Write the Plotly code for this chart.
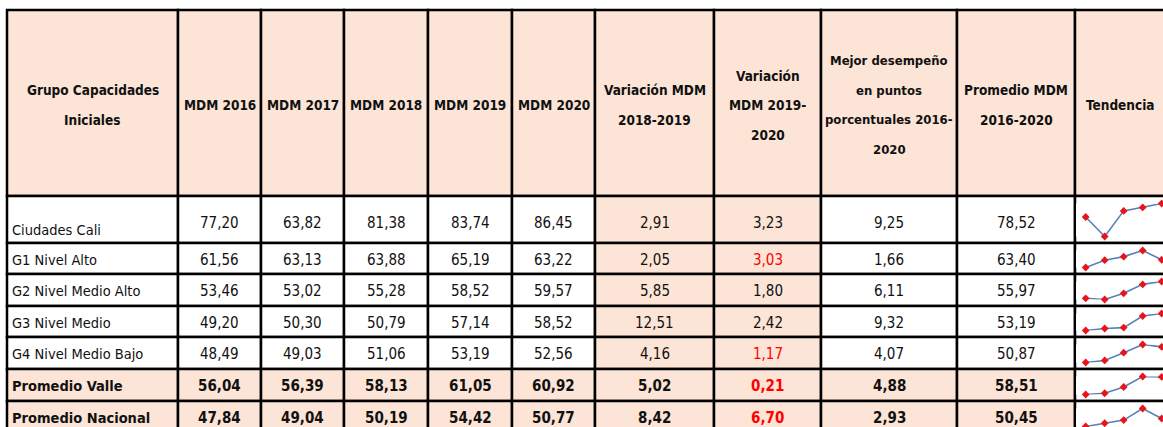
import plotly.graph_objects as go

# data
grupos = ["Ciudades Cali", "G1 Nivel Alto", "G2 Nivel Medio Alto", "G3 Nivel Medio",
          "G4 Nivel Medio Bajo", "Promedio Valle", "Promedio Nacional"]
anios = ["2016", "2017", "2018", "2019", "2020"]
mdm_2016 = [77.20, 61.56, 53.46, 49.20, 48.49, 56.04, 47.84]
mdm_2017 = [63.82, 63.13, 53.02, 50.30, 49.03, 56.39, 49.04]
mdm_2018 = [81.38, 63.88, 55.28, 50.79, 51.06, 58.13, 50.19]
mdm_2019 = [83.74, 65.19, 58.52, 57.14, 53.19, 61.05, 54.42]
mdm_2020 = [86.45, 63.22, 59.57, 58.52, 52.56, 60.92, 50.77]
var_18_19 = [2.91, 2.05, 5.85, 12.51, 4.16, 5.02, 8.42]
var_19_20 = [3.23, 3.03, 1.80, 2.42, 1.17, 0.21, 6.70]
mejor_desemp = [9.25, 1.66, 6.11, 9.32, 4.07, 4.88, 2.93]
promedio = [78.52, 63.40, 55.97, 53.19, 50.87, 58.51, 50.45]
var_rojo = [False, True, False, False, True, True, True]
encabezados = [
    ["Grupo Capacidades", "Iniciales"],
    ["MDM 2016"], ["MDM 2017"], ["MDM 2018"], ["MDM 2019"], ["MDM 2020"],
    ["Variación MDM", "2018-2019"],
    ["Variación", "MDM 2019-", "2020"],
    ["Mejor desempeño", "en puntos", "porcentuales 2016-", "2020"],
    ["Promedio MDM", "2016-2020"],
    ["Tendencia"],
]

# layout in pixels (body margin removed in the page, so figure px == window px)
W, H = 1163, 427
col_x = [7, 178, 261, 344, 428, 512, 595, 714, 821, 957, 1075, 1166]
row_y = [10, 196, 243, 274, 306, 337, 369, 401, 433]
head_cy = 105
line_gap = 29.5
PEACH = "#fce4d6"
FONT = "DejaVu Sans Condensed, Liberation Sans, sans-serif"

fig = go.Figure()
shapes = []
annots = []


def cell(c, r, fill):
    x1 = col_x[c + 1] + (20 if c == len(col_x) - 2 else 0)
    shapes.append(dict(type="rect", xref="x", yref="y",
                       x0=col_x[c], x1=x1, y0=row_y[r], y1=row_y[r + 1],
                       fillcolor=fill, line=dict(color="black", width=2.5), layer="below"))


def txt(x, y, s, bold=False, color="#111", anchor="center", size=15):
    if bold:
        s = "<b>" + s + "</b>"
    annots.append(dict(x=x, y=y, xref="x", yref="y", text=s, showarrow=False,
                       xanchor=anchor, yanchor="middle",
                       font=dict(family=FONT, size=size, color=color)))


def fmt(v):
    return ("%.2f" % v).replace(".", ",")


ncol = len(encabezados)

# header
for c, lines in enumerate(encabezados):
    cell(c, 0, PEACH)
    cx = (col_x[c] + col_x[c + 1]) / 2
    n = len(lines)
    for i, ln in enumerate(lines):
        y = head_cy + (i - (n - 1) / 2) * line_gap
        txt(cx, y, ln, bold=True, size=13 if c == 8 else 13.5)

# body
for r in range(len(grupos)):
    total = r >= 5
    vals = [mdm_2016[r], mdm_2017[r], mdm_2018[r], mdm_2019[r], mdm_2020[r],
            var_18_19[r], var_19_20[r], mejor_desemp[r], promedio[r]]
    ry = r + 1
    cy = (row_y[ry] + row_y[ry + 1]) / 2
    for c in range(ncol):
        if c == ncol - 1:
            fill = "white"
        elif total or c in (6, 7):
            fill = PEACH
        else:
            fill = "white"
        cell(c, ry, fill)
    label_y = row_y[ry + 1] - 13 if r == 0 else cy + 1
    txt(col_x[0] + 3, label_y, grupos[r], bold=total, anchor="left", size=14.5)
    for i, v in enumerate(vals):
        c = i + 1
        cx = (col_x[c] + col_x[c + 1]) / 2
        color = "#ff0000" if (c == 7 and var_rojo[r]) else "#111"
        txt(cx, cy + 1 if r else cy + 3, fmt(v), bold=total, color=color)

# sparklines
sx0, sx1 = 1076, W
for r in range(len(grupos)):
    serie = [mdm_2016[r], mdm_2017[r], mdm_2018[r], mdm_2019[r], mdm_2020[r]]
    top = row_y[r + 1] + 7.5
    bot = row_y[r + 2] - 6.5
    k = r + 2
    fig.add_trace(go.Scatter(
        x=list(range(len(anios))), y=serie, mode="lines+markers",
        line=dict(color="#5b80b8", width=1.6),
        marker=dict(color="#e8141b", size=6, symbol="diamond"),
        cliponaxis=False, hoverinfo="skip", showlegend=False,
        xaxis="x%d" % k, yaxis="y%d" % k))
    fig.layout["xaxis%d" % k] = dict(domain=[sx0 / W, sx1 / W],
                                      range=[-0.51, -0.51 + (sx1 - sx0) / 19.0],
                                      visible=False, anchor="y%d" % k)
    fig.layout["yaxis%d" % k] = dict(domain=[max(0, 1 - bot / H), 1 - top / H],
                                      range=[min(serie), max(serie)],
                                      visible=False, anchor="x%d" % k)

fig.update_layout(
    width=W, height=H,
    margin=dict(l=0, r=0, t=0, b=0),
    paper_bgcolor="white", plot_bgcolor="white",
    xaxis=dict(range=[0, W], visible=False, domain=[0, 1]),
    yaxis=dict(range=[H, 0], visible=False, domain=[0, 1]),
    shapes=shapes, annotations=annots,
)

fig.write_html("out.html", config={"displayModeBar": False},
               post_script="document.body.style.margin='0';document.body.style.overflow='hidden';")
